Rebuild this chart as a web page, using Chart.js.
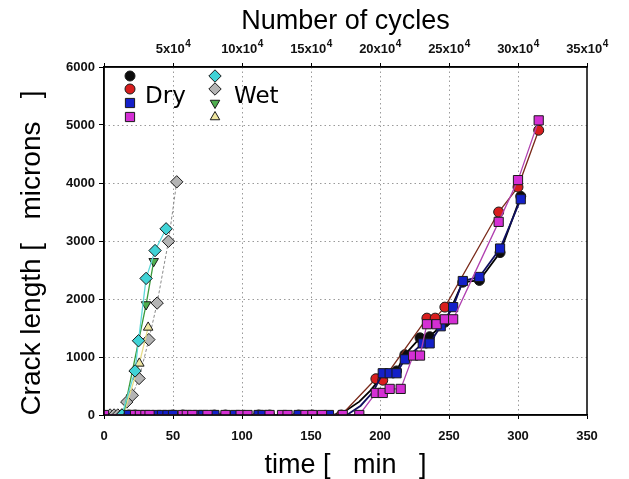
<!DOCTYPE html>
<html>
<head>
<meta charset="utf-8">
<script src="https://cdn.jsdelivr.net/npm/chart.js@4/dist/chart.umd.min.js"></script>
<style>
  html, body { margin: 0; padding: 0; background: #fff; }
  #wrap { width: 629px; height: 479px; }
</style>
</head>
<body>
<div id="wrap"><canvas id="c" width="629" height="479"></canvas></div>
<script>
// ---------- DATA ----------
// x axis: time [min], y axis: crack length [microns]
const xTicks = [0, 50, 100, 150, 200, 250, 300, 350];
const yTicks = [0, 1000, 2000, 3000, 4000, 5000, 6000];
const cycleTicks = [0, 50000, 100000, 150000, 200000, 250000, 300000, 350000];

// Dry specimens
const dryMagentaT = [0, 22.5, 26, 30, 33, 57, 60, 64, 75, 88, 99, 104, 120, 129, 133, 146, 151, 158, 173, 185, 197, 202, 207, 215, 224, 229, 234, 241, 247, 253, 286, 300, 315];
const dryMagentaV = [0, 0, 0, 0, 0, 0, 0, 0, 0, 0, 0, 0, 0, 0, 0, 0, 0, 0, 0, 0, 380, 380, 450, 450, 1025, 1025, 1565, 1565, 1650, 1650, 3330, 4050, 5080];

const dryBlueZeroT = [18, 38, 42, 46, 50, 68, 72, 80, 95, 112, 115, 141, 163];
const dryBlueCurveT = [176, 186, 195];          // start-up curve, line only
const dryBlueCurveV = [0, 160, 400];
const dryBlueT = [202, 207, 212, 218, 231, 236, 244, 253, 260, 272, 287, 302];
const dryBlueV = [720, 720, 720, 960, 1235, 1235, 1530, 1860, 2310, 2380, 2870, 3720];

const dryRedT = [22.5, 57, 88, 120, 151, 172, 197, 202, 234, 240, 247, 286, 300, 315];
const dryRedV = [0, 0, 0, 0, 0, 0, 625, 600, 1670, 1670, 1860, 3500, 3930, 4910];

const dryBlackZeroT = [18, 50, 80, 112, 141];
const dryBlackCurveT = [166, 175, 185, 193];     // start-up curve, line only
const dryBlackCurveV = [0, 70, 230, 420];
const dryBlackT = [201, 212, 218, 229, 236, 247, 260, 272, 287, 302];
const dryBlackV = [650, 760, 1040, 1330, 1350, 1600, 2290, 2320, 2800, 3770];

// Wet specimens
const wetCyanT = [13, 22.5, 25, 30.5, 37, 45];
const wetCyanV = [0, 760, 1280, 2355, 2835, 3210];

const wetGrayT = [4.4, 7.3, 10, 13, 16.5, 20.5, 25.4, 32.5, 38.5, 46.7, 52.7];
const wetGrayV = [0, 0, 0, 0, 225, 340, 630, 1300, 1930, 2995, 4020];

const wetGreenT = [14, 30.5, 36];
const wetGreenV = [0, 1905, 2650];

const wetYellowT = [14, 25.6, 32];
const wetYellowV = [0, 890, 1510];

const legendDry = 'Dry';
const legendWet = 'Wet';
const xTitle = 'time [   min   ]';
const yTitle = 'Crack length [   microns   ]';
const topTitle = 'Number of cycles';

// ---------- BUILD ----------
function pts(T, V) { return T.map((t, i) => ({ x: t, y: V[i] })); }

// series with a hidden-marker start-up curve: zeros (markers), curve (no markers), data (markers)
function withCurve(zeroT, curveT, curveV, T, V) {
  const data = [];
  zeroT.forEach(t => data.push({ x: t, y: 0, m: true }));
  curveT.forEach((t, i) => data.push({ x: t, y: curveV[i], m: false }));
  T.forEach((t, i) => data.push({ x: t, y: V[i], m: true }));
  return data;
}

function markerSet(data, style, fill, line, radius, extra) {
  return Object.assign({
    data: data,
    showLine: true,
    borderColor: line,
    borderWidth: 1.3,
    backgroundColor: fill,
    pointStyle: style,
    pointRadius: (c) => (c.raw && c.raw.m === false) ? 0 : radius,
    pointHoverRadius: radius,
    pointBackgroundColor: fill,
    pointBorderColor: '#1a1a1a',
    pointBorderWidth: 1,
    tension: 0
  }, extra || {});
}

const datasets = [
  // dry markers (index 0 drawn on top)
  markerSet(pts(dryMagentaT, dryMagentaV), 'rect', '#d42fd4', '#b040b0', 6.5),
  markerSet(withCurve(dryBlueZeroT, dryBlueCurveT, dryBlueCurveV, dryBlueT, dryBlueV), 'rect', '#1420c8', '#101060', 6.5, { borderWidth: 1.8 }),
  markerSet(pts(dryRedT, dryRedV), 'circle', '#d81e1e', '#7a2a1a', 5),
  markerSet(withCurve(dryBlackZeroT, dryBlackCurveT, dryBlackCurveV, dryBlackT, dryBlackV), 'circle', '#0c0c0c', '#000000', 5, { borderWidth: 1.8 }),
  // wet markers
  markerSet(pts(wetCyanT, wetCyanV), 'rectRot', '#3fd3d6', '#5fd8d8', 6.2),
  markerSet(pts(wetGreenT, wetGreenV), 'triangle', '#4fae4f', '#3a9a3a', 5.5, { pointRotation: 180 }),
  markerSet(pts(wetYellowT, wetYellowV), 'triangle', '#efe6a0', '#e6dc88', 5.5),
  markerSet(pts(wetGrayT, wetGrayV), 'rectRot', '#b4b4b4', '#8a8a8a', 6.2, { borderDash: [3, 2], borderWidth: 1 })
];

const tickFont = { family: 'Liberation Sans, Arial, sans-serif', size: 13, weight: 'bold' };

const gridPlugin = {
  id: 'dottedGrid',
  beforeDatasetsDraw(chart) {
    const { ctx, chartArea: a, scales } = chart;
    ctx.save();
    ctx.strokeStyle = '#9a9a9a';
    ctx.lineWidth = 1;
    ctx.setLineDash([1.5, 3]);
    xTicks.forEach(v => {
      if (v === xTicks[0] || v === xTicks[xTicks.length - 1]) return;
      const x = Math.round(scales.x.getPixelForValue(v)) + 0.5;
      ctx.beginPath(); ctx.moveTo(x, a.top); ctx.lineTo(x, a.bottom); ctx.stroke();
    });
    yTicks.forEach(v => {
      if (v === yTicks[0] || v === yTicks[yTicks.length - 1]) return;
      const y = Math.round(scales.y.getPixelForValue(v)) + 0.5;
      ctx.beginPath(); ctx.moveTo(a.left, y); ctx.lineTo(a.right, y); ctx.stroke();
    });
    ctx.restore();
  },
  afterDatasetsDraw(chart) {
    const { ctx, chartArea: a, scales } = chart;
    ctx.save();
    ctx.strokeStyle = '#000';
    ctx.lineWidth = 1.5;
    ctx.strokeRect(a.left, a.top, a.right - a.left, a.bottom - a.top);
    // top axis labels with real superscripts
    ctx.fillStyle = '#111';
    ctx.textBaseline = 'alphabetic';
    ctx.textAlign = 'left';
    cycleTicks.forEach(v => {
      if (v === 0) return;
      const base = (v / 10000) + 'x10';
      ctx.font = 'bold 13px "Liberation Sans", Arial, sans-serif';
      const w1 = ctx.measureText(base).width;
      ctx.font = 'bold 10px "Liberation Sans", Arial, sans-serif';
      const w2 = ctx.measureText('4').width;
      const x0 = scales.x2.getPixelForValue(v) - (w1 + w2) / 2;
      const yb = a.top - 14;
      ctx.font = 'bold 13px "Liberation Sans", Arial, sans-serif';
      ctx.fillText(base, x0, yb);
      ctx.font = 'bold 10px "Liberation Sans", Arial, sans-serif';
      ctx.fillText('4', x0 + w1 + 0.5, yb - 6);
    });
    // y axis title (placed as in the reference, slightly below centre)
    ctx.fillStyle = '#000';
    ctx.font = '28px "Liberation Sans", Arial, sans-serif';
    ctx.textAlign = 'center';
    ctx.textBaseline = 'middle';
    ctx.translate(32, a.top + (a.bottom - a.top) / 2 + 12);
    ctx.rotate(-Math.PI / 2);
    ctx.fillText(yTitle, 0, 0);
    ctx.restore();
  }
};

const legendPlugin = {
  id: 'customLegend',
  afterDatasetsDraw(chart) {
    const { ctx } = chart;
    const H = Chart.helpers;
    const a = chart.chartArea;
    const colDry = a.left + 26, colWet = a.left + 111;
    const rows = [a.top + 9, a.top + 22, a.top + 36, a.top + 50];
    const dry = [
      { s: 'circle', f: '#0c0c0c', r: 5 },
      { s: 'circle', f: '#d81e1e', r: 5 },
      { s: 'rect', f: '#1420c8', r: 6.5 },
      { s: 'rect', f: '#d42fd4', r: 6.5 }
    ];
    const wet = [
      { s: 'rectRot', f: '#3fd3d6', r: 6.2 },
      { s: 'rectRot', f: '#b4b4b4', r: 6.2 },
      { s: 'triangle', f: '#4fae4f', r: 5.5, rot: 180 },
      { s: 'triangle', f: '#efe6a0', r: 5.5 }
    ];
    ctx.save();
    function mk(m, x, y) {
      ctx.fillStyle = m.f;
      ctx.strokeStyle = '#1a1a1a';
      ctx.lineWidth = 1;
      H.drawPoint(ctx, { pointStyle: m.s, radius: m.r, rotation: m.rot || 0, borderWidth: 1 }, x, y);
    }
    dry.forEach((m, i) => mk(m, colDry, rows[i]));
    wet.forEach((m, i) => mk(m, colWet, rows[i]));
    ctx.fillStyle = '#000';
    ctx.font = '23px "DejaVu Sans", sans-serif';
    ctx.textBaseline = 'middle';
    ctx.textAlign = 'left';
    ctx.fillText(legendDry, a.left + 41, a.top + 30);
    ctx.fillText(legendWet, a.left + 130, a.top + 30);
    ctx.restore();
  }
};

new Chart(document.getElementById('c'), {
  type: 'scatter',
  data: { datasets },
  options: {
    responsive: false,
    animation: false,
    events: [],
    layout: { padding: { left: 0, right: 42, top: 0, bottom: 0 } },
    plugins: { legend: { display: false }, tooltip: { enabled: false } },
    scales: {
      x: {
        type: 'linear', position: 'bottom', min: 0, max: 350,
        afterBuildTicks(s) { s.ticks = xTicks.map(v => ({ value: v })); },
        afterFit(s) { s.height = 64; },
        ticks: { font: tickFont, color: '#111', padding: 10, maxRotation: 0, callback: v => String(v) },
        grid: { drawOnChartArea: false, color: '#000', tickLength: 4 },
        border: { display: true, color: '#000', width: 1.5 },
        title: { display: true, text: xTitle, color: '#000', font: { family: 'Liberation Sans, Arial, sans-serif', size: 27, lineHeight: 1 }, padding: { top: 0, bottom: 0 } }
      },
      x2: {
        type: 'linear', position: 'top', min: 0, max: 350000,
        afterBuildTicks(s) { s.ticks = cycleTicks.map(v => ({ value: v })); },
        afterFit(s) { s.height = 67; },
        ticks: { display: false },
        grid: { drawOnChartArea: false, color: '#000', tickLength: 4 },
        border: { display: true, color: '#000', width: 1.5 },
        title: { display: true, text: topTitle, color: '#000', font: { family: 'Liberation Sans, Arial, sans-serif', size: 27, lineHeight: 1 }, padding: { top: 8, bottom: 0 } }
      },
      y: {
        type: 'linear', position: 'left', min: 0, max: 6000,
        afterBuildTicks(s) { s.ticks = yTicks.map(v => ({ value: v })); },
        afterFit(s) { s.width = 104; },
        ticks: { font: tickFont, color: '#111', padding: 4, callback: v => String(v) },
        grid: { drawOnChartArea: false, color: '#000', tickLength: 5 },
        border: { display: true, color: '#000', width: 1.5 },
        title: { display: false }
      }
    }
  },
  plugins: [gridPlugin, legendPlugin]
});
</script>
</body>
</html>
